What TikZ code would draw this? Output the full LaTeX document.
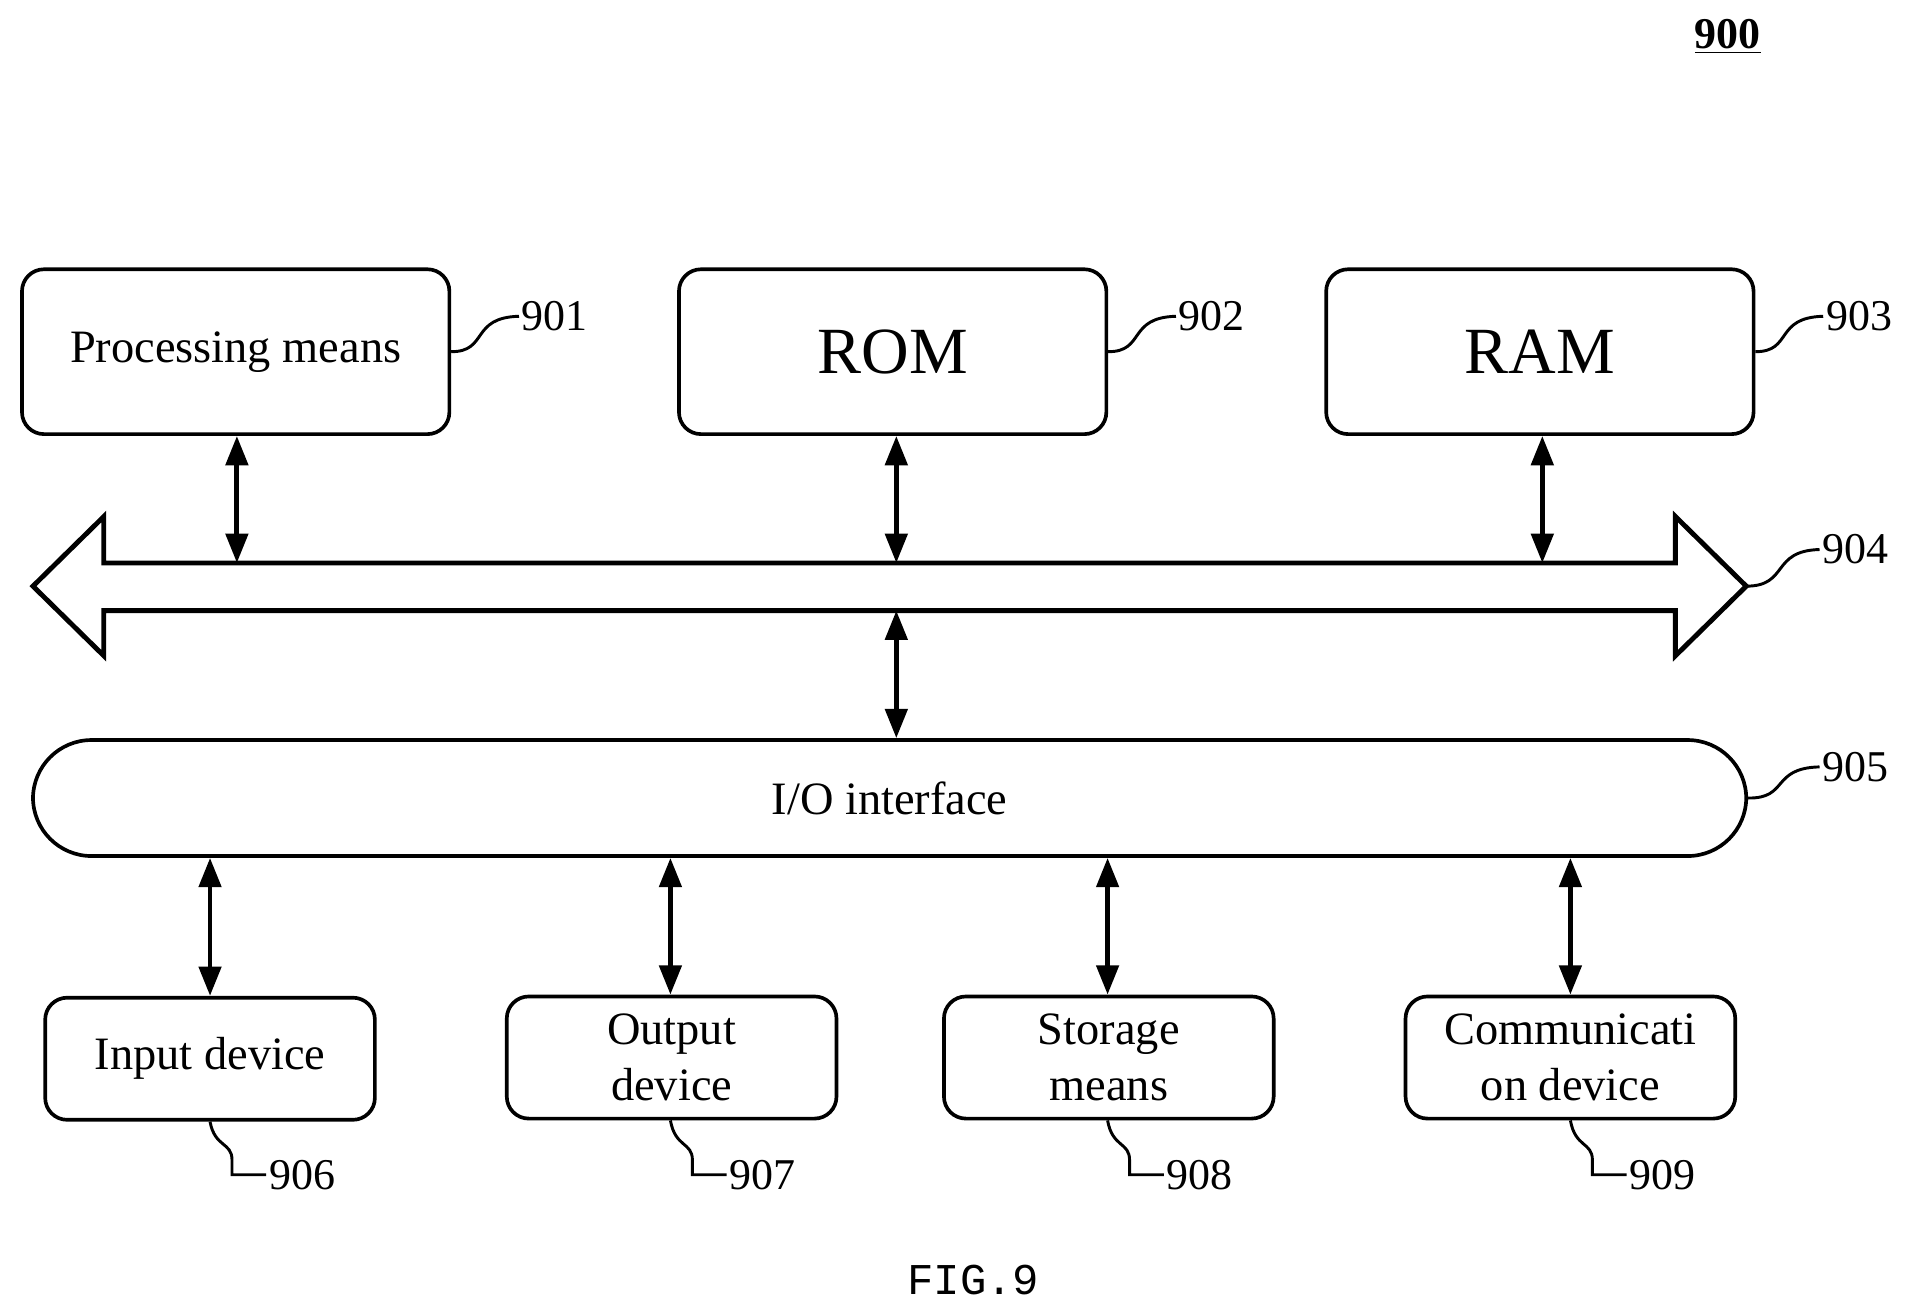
\documentclass[tikz,border=0pt]{standalone}
\usepackage{fontspec}
\setmainfont{Liberation Serif}
\newfontfamily\monof{Liberation Mono}
\usetikzlibrary{arrows.meta}
\begin{document}
\begin{tikzpicture}[x=0.5pt,y=-0.5pt,
  box/.style={draw,line width=1.5pt,rounded corners=9pt,inner sep=0pt,align=center,font=\fontsize{19}{23}\selectfont},
  big/.style={font=\fontsize{27}{30}\selectfont},
  dbl/.style={line width=2pt,{Triangle[length=12pt,width=9pt]}-{Triangle[length=12pt,width=9pt]}},
  lbl/.style={font=\fontsize{18}{20}\selectfont,inner sep=1pt},
  sq/.style={line width=1.2pt}]
\useasboundingbox (0,0) rectangle (1560,1072);
\node[font=\bfseries\fontsize{18}{20}\selectfont] (n900) at (1415,30) {\underline{900}};
% top boxes
\node[box,minimum width=175pt,minimum height=67.5pt] (pm) at (193,288) {Processing means};
\node[box,big,minimum width=175pt,minimum height=67.5pt] (rom) at (731,288) {ROM};
\node[box,big,minimum width=175pt,minimum height=67.5pt] (ram) at (1261,288) {RAM};
\node[lbl,anchor=west] (l901) at (425,259) {901};
\node[lbl,anchor=west] (l902) at (963,259) {902};
\node[lbl,anchor=west] (l903) at (1493,259) {903};
\draw[sq] (pm.east) .. controls (400,288) and (385,260) .. (l901.west);
\draw[sq] (rom.east) .. controls (938,288) and (923,260) .. (l902.west);
\draw[sq] (ram.east) .. controls (1468,288) and (1453,260) .. (l903.west);
% bus
\draw[line width=2pt,line join=miter] (85,461) -- (1372,461) -- (1372,423) -- (1430,480) coordinate (rt) -- (1372,537) -- (1372,500) -- (85,500) -- (85,537) -- (27,480) -- (85,423) -- cycle;
\coordinate (bt1) at (194,461); \coordinate (bt2) at (734,461); \coordinate (bt3) at (1263,461);
\coordinate (bb) at (734,500);
\node[lbl,anchor=west] (l904) at (1490,450) {904};
\draw[sq] (rt) .. controls (1465,480) and (1450,451) .. (l904.west);
\draw[dbl] (bt1) -- (bt1 |- pm.south);
\draw[dbl] (bt2) -- (bt2 |- rom.south);
\draw[dbl] (bt3) -- (bt3 |- ram.south);
% IO
\node[draw,line width=1.5pt,rounded corners=24pt,minimum width=701.5pt,minimum height=47.5pt,font=\fontsize{19}{23}\selectfont] (io) at (728.5,653.5) {I/O interface};
\node[lbl,anchor=west] (l905) at (1490,628) {905};
\draw[sq] (io.east) .. controls (1465,654) and (1450,629) .. (l905.west);
\draw[dbl] (bb) -- (bb |- io.north);
% bottom boxes
\node[box,minimum width=135pt,minimum height=50pt] (in) at (172,867) {Input device};
\node[box,minimum width=135pt,minimum height=50pt] (out) at (550,866) {Output\\device};
\node[box,minimum width=135pt,minimum height=50pt] (st) at (908,866) {Storage\\means};
\node[box,minimum width=135pt,minimum height=50pt] (co) at (1286,866) {Communicati\\on device};
\foreach \n/\x/\l in {in/172/906,out/549/907,st/907/908,co/1286/909}{
  \coordinate (c\l) at (\x,0);
  \draw[dbl] (c\l |- io.south) -- (c\l |- \n.north);
  \node[lbl,anchor=west] (l\l) at (\x+46,962) {\l};
  \draw[sq] (c\l |- \n.south) .. controls (\x+4,940) and (\x+18,935) .. (\x+18,950) -- (\x+18,962) -- (l\l.west);
}
\node[font=\monof\fontsize{18}{20}\selectfont] (fig) at (797,1048) {FIG.9};
\end{tikzpicture}
\end{document}
